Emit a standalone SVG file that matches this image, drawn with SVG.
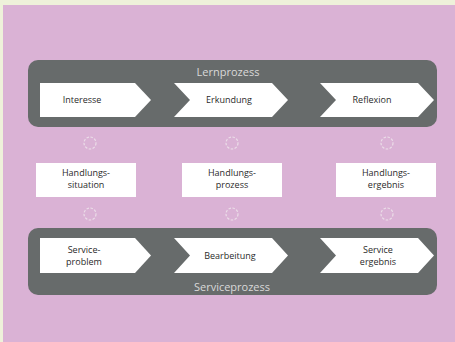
<svg xmlns="http://www.w3.org/2000/svg" width="455" height="342" viewBox="0 0 455 342">
<style>
.bg{fill:#eef1da}
.panel{fill:#dab2d5}
.band{fill:#676b6b}
.chev{fill:#ffffff}
.box{fill:#ffffff}
.t{font-family:"Open Sans","Liberation Sans",sans-serif;font-size:9px;fill:#2a2a2a;text-anchor:middle}
.title{font-family:"Open Sans","Liberation Sans",sans-serif;font-size:11px;fill:#d9d9d9;text-anchor:middle}
.ring{fill:none;stroke:#ebdde8;stroke-width:1.2;stroke-dasharray:2.5 1.5}
</style>
<rect class="bg" x="0" y="0" width="455" height="342"/>
<rect class="panel" x="3" y="5" width="452" height="337"/>

<g id="lernprozess">
<rect class="band" x="28" y="60" width="409" height="67" rx="10"/>
<text class="title" x="228" y="76">Lernprozess</text>
</g>
<g id="interesse">
<polygon class="chev" points="40,83 135,83 151,100 135,117 40,117"/>
<text class="t" x="82" y="103">Interesse</text>
</g>
<g id="erkundung">
<polygon class="chev" points="174,83 272,83 288,100 272,117 174,117 190,100"/>
<text class="t" x="229" y="103">Erkundung</text>
</g>
<g id="reflexion">
<polygon class="chev" points="320,83 418,83 434,100 418,117 320,117 336,100"/>
<text class="t" x="372" y="103">Reflexion</text>
</g>

<g id="connectors">
<circle class="ring" cx="90" cy="143" r="6"/>
<circle class="ring" cx="232" cy="143" r="6"/>
<circle class="ring" cx="387" cy="143" r="6"/>
<circle class="ring" cx="90" cy="214" r="6"/>
<circle class="ring" cx="232" cy="214" r="6"/>
<circle class="ring" cx="387" cy="214" r="6"/>
</g>

<g id="handlungssituation">
<rect class="box" x="36" y="163" width="100" height="34"/>
<text class="t" x="86" y="176">Handlungs-</text>
<text class="t" x="86" y="188">situation</text>
</g>
<g id="handlungsprozess">
<rect class="box" x="182" y="163" width="100" height="34"/>
<text class="t" x="232" y="176">Handlungs-</text>
<text class="t" x="232" y="188">prozess</text>
</g>
<g id="handlungsergebnis">
<rect class="box" x="336" y="163" width="100" height="34"/>
<text class="t" x="386" y="176">Handlungs-</text>
<text class="t" x="386" y="188">ergebnis</text>
</g>

<g id="serviceprozess">
<rect class="band" x="28" y="228" width="409" height="67" rx="10"/>
<text class="title" x="232" y="291">Serviceprozess</text>
</g>
<g id="serviceproblem">
<polygon class="chev" points="40,238 135,238 151,255.5 135,273 40,273"/>
<text class="t" x="84" y="253">Service-</text>
<text class="t" x="84" y="265">problem</text>
</g>
<g id="bearbeitung">
<polygon class="chev" points="174,238 272,238 288,255.5 272,273 174,273 190,255.5"/>
<text class="t" x="230" y="259">Bearbeitung</text>
</g>
<g id="serviceergebnis">
<polygon class="chev" points="320,238 418,238 434,255.5 418,273 320,273 336,255.5"/>
<text class="t" x="378" y="253">Service</text>
<text class="t" x="378" y="265">ergebnis</text>
</g>
</svg>
